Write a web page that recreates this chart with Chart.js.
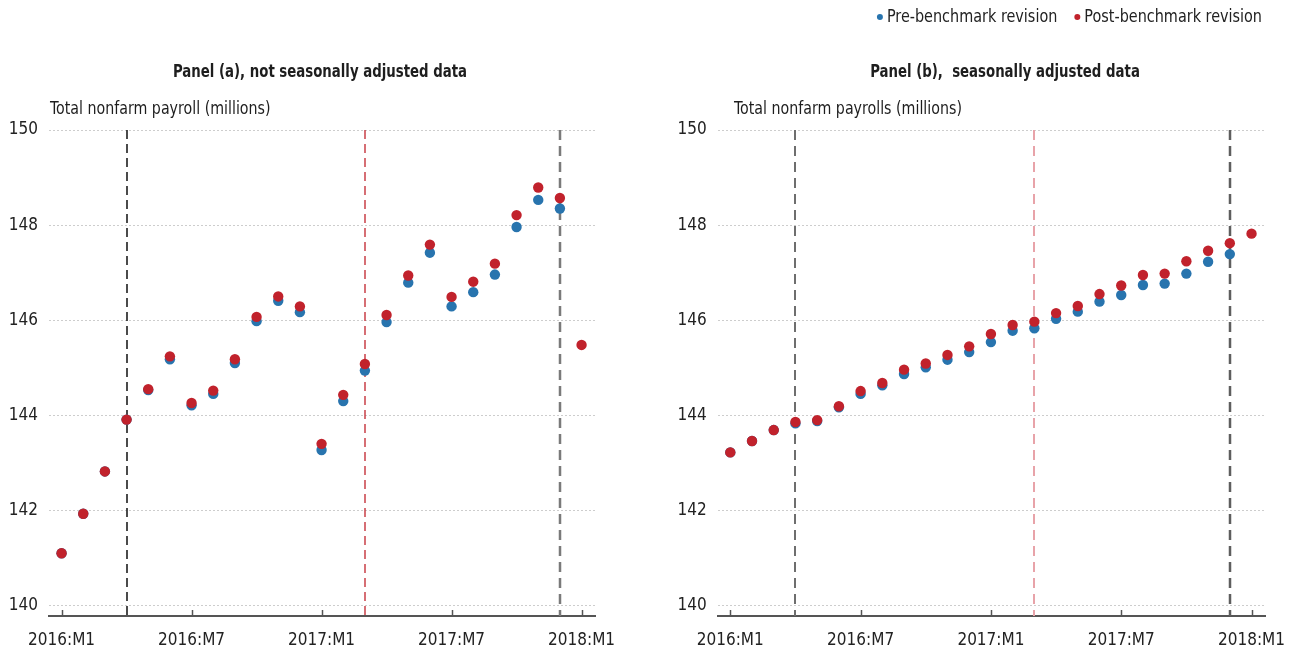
<!DOCTYPE html>
<html>
<head>
<meta charset="utf-8">
<script src="https://cdn.jsdelivr.net/npm/chart.js@4.4.1/dist/chart.umd.min.js"></script>
<style>
  html, body { margin: 0; padding: 0; background: #fff; }
  #wrap { position: relative; width: 1292px; height: 654px; overflow: hidden; }
  .panel { position: absolute; top: 0; width: 646px; height: 654px; }
</style>
</head>
<body>
<div id="wrap">
  <div class="panel" style="left:0"><canvas id="panelA"></canvas></div>
  <div class="panel" style="left:646px"><canvas id="panelB"></canvas></div>
</div>
<script>
// Monthly categories, 2016:M1 through 2018:M1
const months = [
  '2016:M1','2016:M2','2016:M3','2016:M4','2016:M5','2016:M6',
  '2016:M7','2016:M8','2016:M9','2016:M10','2016:M11','2016:M12',
  '2017:M1','2017:M2','2017:M3','2017:M4','2017:M5','2017:M6',
  '2017:M7','2017:M8','2017:M9','2017:M10','2017:M11','2017:M12',
  '2018:M1'
];

// Total nonfarm payrolls, millions — not seasonally adjusted
const nsaPre = [
  141.10, 141.93, 142.82, 143.91, 144.53, 145.18, 144.21, 144.45, 145.10, 145.98, 146.41, 146.17,
  143.27, 144.30, 144.94, 145.96, 146.79, 147.42, 146.29, 146.59, 146.96, 147.96, 148.53, 148.35,
  null
];
const nsaPost = [
  141.10, 141.93, 142.82, 143.91, 144.55, 145.24, 144.26, 144.52, 145.18, 146.07, 146.50, 146.29,
  143.40, 144.43, 145.08, 146.11, 146.94, 147.59, 146.49, 146.81, 147.19, 148.21, 148.79, 148.57,
  145.48
];

// Total nonfarm payrolls, millions — seasonally adjusted
const saPre = [
  143.22, 143.46, 143.69, 143.83, 143.88, 144.17, 144.45, 144.63, 144.87, 145.01, 145.17, 145.33,
  145.54, 145.78, 145.83, 146.03, 146.18, 146.39, 146.53, 146.74, 146.77, 146.98, 147.23, 147.39,
  null
];
const saPost = [
  143.22, 143.46, 143.69, 143.86, 143.90, 144.19, 144.51, 144.68, 144.96, 145.09, 145.27, 145.45,
  145.71, 145.90, 145.97, 146.15, 146.30, 146.55, 146.73, 146.95, 146.98, 147.24, 147.46, 147.62,
  147.82
];

// Axis ticks
const xTickLabels = ['2016:M1', '2016:M7', '2017:M1', '2017:M7', '2018:M1'];
const yTickValues = [140, 142, 144, 146, 148, 150];

// Months marked with vertical dashed rules
const ruleMonths = ['2016:M4', '2017:M3', '2017:M12'];

const seriesNames = ['Pre-benchmark revision', 'Post-benchmark revision'];
const BLUE = '#2874ae';
const RED = '#c1222c';
const FONT = '"DejaVu Sans Condensed", "Liberation Sans Narrow", "Liberation Sans", sans-serif';

function points(values) {
  const out = [];
  values.forEach((v, i) => { if (v !== null) out.push({ x: i, y: v }); });
  return out;
}

// Text squeezed horizontally to a narrow face
function narrowText(ctx, text, x, y, font, align, sx) {
  ctx.save();
  ctx.font = font;
  ctx.textBaseline = 'middle';
  ctx.textAlign = align;
  ctx.translate(x, y);
  ctx.scale(sx, 1);
  ctx.fillText(text, 0, 0);
  const w = ctx.measureText(text).width * sx;
  ctx.restore();
  return w;
}

// Panel titles, unit label, dashed rules, inward x ticks and the legend
const overlay = {
  id: 'overlay',
  beforeDatasetsDraw(chart, args, opts) {
    const { ctx, chartArea: a, scales: { x } } = chart;
    opts.rules.forEach((style, k) => {
      const px = Math.round(x.getPixelForValue(months.indexOf(ruleMonths[k])));
      ctx.save();
      ctx.strokeStyle = style.color;
      ctx.lineWidth = style.width;
      ctx.setLineDash(style.dash);
      ctx.beginPath();
      ctx.moveTo(px, a.top);
      ctx.lineTo(px, a.bottom);
      ctx.stroke();
      ctx.restore();
    });
    ctx.save();
    ctx.strokeStyle = '#555';
    ctx.lineWidth = 1.5;
    x.ticks.forEach(t => {
      const px = Math.round(x.getPixelForValue(t.value)) + 0.5;
      ctx.beginPath();
      ctx.moveTo(px, a.bottom);
      ctx.lineTo(px, a.bottom - 6);
      ctx.stroke();
    });
    ctx.restore();
  },
  afterDraw(chart, args, opts) {
    const { ctx } = chart;
    ctx.save();
    ctx.fillStyle = '#1e1e1e';
    narrowText(ctx, opts.title, opts.titleX, 73, 'bold 17px ' + FONT, 'center', 0.87);
    narrowText(ctx, opts.unit, opts.unitX, 110, '17px ' + FONT, 'left', 0.93);
    if (opts.legend) {
      const entries = [
        { text: seriesNames[0], color: BLUE },
        { text: seriesNames[1], color: RED }
      ];
      let right = opts.legendRight;
      for (let k = entries.length - 1; k >= 0; k--) {
        ctx.font = '18px ' + FONT;
        const w = ctx.measureText(entries[k].text).width * 0.89;
        const tx = right - w;
        ctx.fillStyle = '#222';
        narrowText(ctx, entries[k].text, tx, 17, '18px ' + FONT, 'left', 0.89);
        ctx.fillStyle = entries[k].color;
        ctx.beginPath();
        ctx.arc(tx - 7, 17, 3, 0, Math.PI * 2);
        ctx.fill();
        right = tx - 7 - 3 - 17;
      }
    }
    ctx.restore();
  }
};

function makeChart(id, pre, post, padding, panelOpts) {
  return new Chart(document.getElementById(id), {
    type: 'scatter',
    data: {
      datasets: [
        { label: seriesNames[0], data: points(pre), backgroundColor: BLUE, borderColor: BLUE,
          pointRadius: 5.2, pointBorderWidth: 0, pointHoverRadius: 5.2, order: 1 },
        { label: seriesNames[1], data: points(post), backgroundColor: RED, borderColor: RED,
          pointRadius: 5.2, pointBorderWidth: 0, pointHoverRadius: 5.2, order: 0 }
      ]
    },
    options: {
      responsive: true,
      maintainAspectRatio: false,
      animation: false,
      layout: { padding },
      plugins: {
        legend: { display: false },
        tooltip: { enabled: false },
        overlay: panelOpts
      },
      scales: {
        x: {
          type: 'linear',
          min: -0.58,
          max: 24.62,
          afterBuildTicks: s => { s.ticks = xTickLabels.map(l => ({ value: months.indexOf(l) })); },
          afterFit: s => { s.height = 38; s.paddingLeft = 0; s.paddingRight = 0; },
          ticks: {
            callback: v => months[v],
            font: { family: FONT, size: 17 },
            color: '#222',
            padding: 14,
            maxRotation: 0,
            autoSkip: false
          },
          grid: { display: false, drawTicks: false },
          border: { display: true, color: '#555', width: 2 }
        },
        y: {
          min: 139.78,
          max: 150,
          afterBuildTicks: s => { s.ticks = yTickValues.map(v => ({ value: v })); },
          afterFit: s => { s.width = 49; },
          ticks: {
            font: { family: FONT, size: 17 },
            color: '#222',
            padding: 11
          },
          grid: { color: '#cdcdcd', lineWidth: 1, drawTicks: false },
          border: { display: false, dash: [2, 2] }
        }
      }
    },
    plugins: [overlay]
  });
}

makeChart('panelA', nsaPre, nsaPost, { top: 130, left: 0, right: 51, bottom: 0 }, {
  title: 'Panel (a), not seasonally adjusted data',
  titleX: 320,
  unit: 'Total nonfarm payroll (millions)',
  unitX: 50,
  rules: [
    { color: '#1e1e1e', width: 1.6, dash: [9, 5] },
    { color: '#c1222c', width: 1.3, dash: [9, 5] },
    { color: '#7a7a7a', width: 2.5, dash: [10, 6] }
  ],
  legend: false
});

makeChart('panelB', saPre, saPost, { top: 130, left: 22.7, right: 27, bottom: 0 }, {
  title: 'Panel (b),  seasonally adjusted data',
  titleX: 359,
  unit: 'Total nonfarm payrolls (millions)',
  unitX: 88,
  rules: [
    { color: '#6e6e6e', width: 2, dash: [10, 6] },
    { color: '#e8a3a9', width: 2, dash: [10, 6] },
    { color: '#5e5e5e', width: 2.5, dash: [10, 6] }
  ],
  legend: true,
  legendRight: 616
});
</script>
</body>
</html>
